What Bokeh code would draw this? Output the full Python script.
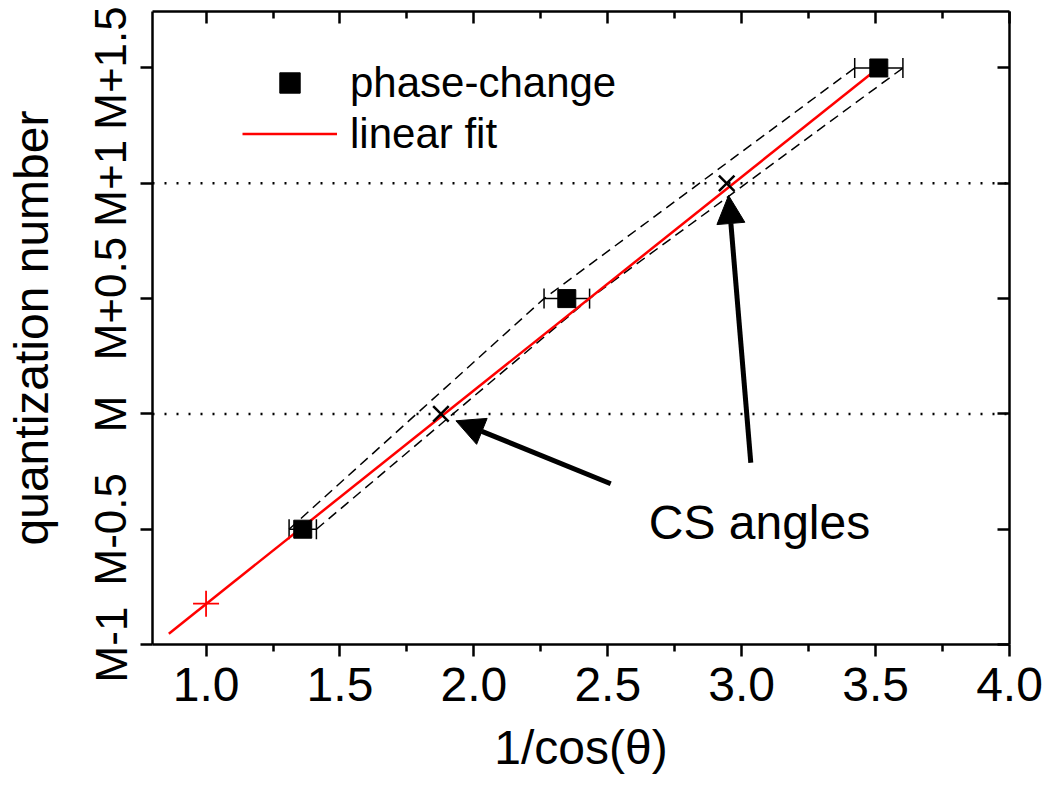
from bokeh.plotting import figure
from bokeh.models import (Range1d, LinearAxis, FixedTicker, Span, Whisker, TeeHead, Grid,
                          ColumnDataSource, Arrow, NormalHead, Label, Legend, LegendItem,
                          PrintfTickFormatter, CustomJSTickFormatter)
from bokeh.embed import file_html
from bokeh.resources import INLINE

# ---------------- data ----------------
phase_x = [1.361, 2.347, 3.512]
phase_y = [-0.5, 0.5, 1.5]
phase_xerr = [0.051, 0.085, 0.090]

fit_x = [0.861, 3.510]
fit_y = [-0.953, 1.500]

origin_x = [1.0]
origin_y = [-0.823]

cs_x = [1.877, 2.944]
cs_y = [0.0, 1.0]

ref_levels = [0.0, 1.0]

arrow_x0 = [2.511, 3.034]
arrow_y0 = [-0.303, -0.212]
arrow_x1 = [1.933, 2.951]
arrow_y1 = [-0.030, 0.947]

x_ticks = [1.0, 1.5, 2.0, 2.5, 3.0, 3.5, 4.0]
x_minor_ticks = [1.25, 1.75, 2.25, 2.75, 3.25, 3.75]
y_ticks = [-1.0, -0.5, 0.0, 0.5, 1.0, 1.5]
y_tick_labels = ["M-1", "M-0.5", "M", "M+0.5", "M+1", "M+1.5"]

FONT = "Liberation Sans"

p = figure(width=1050, height=787, x_range=Range1d(0.8, 4.0), y_range=Range1d(-1.0, 1.745),
           output_backend="svg", toolbar_location=None,
           x_axis_location=None, y_axis_location=None,
           min_border_left=152, min_border_right=41, min_border_top=11, min_border_bottom=143)
p.center = [r for r in p.center if not isinstance(r, Grid)]
p.outline_line_color = None
p.background_fill_color = "white"
p.border_fill_color = "white"

AX_W = 2.5

def make_axis(ticks, minor, show_labels, tin, tout, mtin, mtout):
    ax = LinearAxis(ticker=FixedTicker(ticks=ticks, minor_ticks=minor))
    ax.axis_line_width = AX_W
    ax.major_tick_line_width = AX_W
    ax.minor_tick_line_width = AX_W
    ax.major_tick_in = tin
    ax.major_tick_out = tout
    ax.minor_tick_in = mtin
    ax.minor_tick_out = mtout
    ax.major_label_text_font = FONT
    ax.major_label_text_color = "black"
    ax.axis_label_text_font = FONT
    ax.axis_label_text_color = "black"
    ax.axis_label_text_font_style = "normal"
    ax.axis_label_text_font_size = "48px"
    if not show_labels:
        ax.formatter = CustomJSTickFormatter(code="return ''")
        ax.major_label_standoff = 0
    return ax

xb = make_axis(x_ticks, x_minor_ticks, True, 0, 12, 0, 7)
xb.formatter = PrintfTickFormatter(format="%.1f")
xb.major_label_text_font_size = "48px"
xb.major_label_standoff = 11
xb.axis_label = "1/cos(θ)"
xb.axis_label_standoff = 17
p.add_layout(xb, "below")

xt = make_axis(x_ticks, x_minor_ticks, False, 12, 0, 7, 0)
p.add_layout(xt, "above")

yl = make_axis(y_ticks, [], True, 0, 12, 0, 0)
yl.major_label_overrides = {t: s for t, s in zip(y_ticks, y_tick_labels)}
yl.major_label_orientation = "vertical"
yl.major_label_text_font_size = "44px"
yl.major_label_standoff = 5
yl.axis_label = "quantization number"
yl.axis_label_standoff = 26
p.add_layout(yl, "left")

yr = make_axis(y_ticks, [], False, 12, 0, 0, 0)
p.add_layout(yr, "right")

# dotted reference levels
for lv in ref_levels:
    p.add_layout(Span(location=lv, dimension="width", line_color="black",
                      line_width=2.5, line_dash="2 10"))

# dashed envelopes through error bar ends
lower_x = [x - e for x, e in zip(phase_x, phase_xerr)]
upper_x = [x + e for x, e in zip(phase_x, phase_xerr)]
p.line(lower_x, phase_y, line_color="black", line_width=1.5, line_dash="10 6")
p.line(upper_x, phase_y, line_color="black", line_width=1.5, line_dash="10 6")

# linear fit
fit = p.line(fit_x, fit_y, line_color="red", line_width=2.5)

# error bars
src = ColumnDataSource(dict(y=phase_y, xl=lower_x, xu=upper_x))
p.add_layout(Whisker(source=src, base="y", lower="xl", upper="xu", dimension="width",
                     line_color="black", line_width=1.5,
                     upper_head=TeeHead(size=20, line_width=1.5, line_color="black"),
                     lower_head=TeeHead(size=20, line_width=1.5, line_color="black")))

sq = p.scatter(phase_x, phase_y, marker="square", size=18, fill_color="black", line_color="black")
p.scatter(cs_x, cs_y, marker="x", size=22, line_color="black", line_width=2.5)
p.scatter(origin_x, origin_y, marker="cross", size=26, line_color="red", line_width=1.8)

# arrows
asrc = ColumnDataSource(dict(x0=arrow_x0, y0=arrow_y0, x1=arrow_x1, y1=arrow_y1))
p.add_layout(Arrow(source=asrc, x_start="x0", y_start="y0", x_end="x1", y_end="y1",
                   line_width=5, line_color="black",
                   end=NormalHead(size=28, fill_color="black", line_color="black", line_width=1)))

p.add_layout(Label(x=2.653, y=-0.473, text="CS angles", text_font=FONT, text_font_size="48px",
                   text_color="black", text_baseline="alphabetic", text_align="left"))

legend = Legend(items=[LegendItem(label="phase-change", renderers=[sq]),
                       LegendItem(label="linear fit", renderers=[fit])],
                location=(90, 485), orientation="vertical",
                background_fill_alpha=0, border_line_color=None,
                label_text_font=FONT, label_text_font_size="42px", label_text_color="black",
                glyph_width=95, glyph_height=51, label_height=51, label_standoff=13,
                spacing=0, padding=0, margin=0)
p.add_layout(legend)

open("out.html", "w").write(file_html(p, INLINE))
